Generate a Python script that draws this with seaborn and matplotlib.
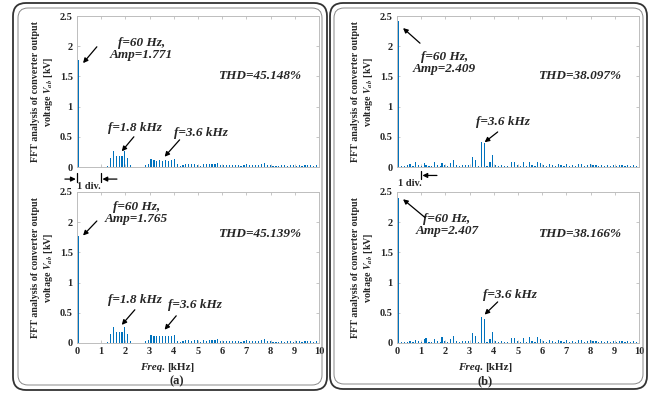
import numpy as np
import matplotlib
matplotlib.use("Agg")
import matplotlib.pyplot as plt
from matplotlib.patches import FancyBboxPatch
import seaborn as sns

# harmonic spectrum, kHz / kV
freq_a = [0.06, 0.18, 0.30, 0.42, 0.54, 0.66, 0.78, 0.90, 1.02, 1.14,
          1.26, 1.38, 1.50, 1.62, 1.74, 1.86, 1.98, 2.10, 2.22, 2.34,
          2.46, 2.58, 2.70, 2.82, 2.94, 3.06, 3.18, 3.30, 3.42, 3.54,
          3.66, 3.78, 3.90, 4.02, 4.14, 4.26, 4.38, 4.50, 4.62, 4.74,
          4.86, 4.98, 5.10, 5.22, 5.34, 5.46, 5.58, 5.70, 5.82, 5.94,
          6.06, 6.18, 6.30, 6.42, 6.54, 6.66, 6.78, 6.90, 7.02, 7.14,
          7.26, 7.38, 7.50, 7.62, 7.74, 7.86, 7.98, 8.10, 8.22, 8.34,
          8.46, 8.58, 8.70, 8.82, 8.94, 9.06, 9.18, 9.30, 9.42, 9.54,
          9.66, 9.78, 9.90]
amp_a_top = [1.771, 0.004, 0.004, 0.005, 0.004, 0.005, 0.004, 0.005, 0.005, 0.006,
             0.02, 0.15, 0.26, 0.19, 0.19, 0.19, 0.26, 0.15, 0.03, 0.005,
             0.004, 0.004, 0.005, 0.03, 0.05, 0.13, 0.12, 0.10, 0.12, 0.10,
             0.12, 0.10, 0.12, 0.14, 0.05, 0.02, 0.04, 0.05, 0.05, 0.05,
             0.05, 0.04, 0.02, 0.05, 0.05, 0.05, 0.05, 0.05, 0.06, 0.04,
             0.03, 0.04, 0.03, 0.03, 0.04, 0.03, 0.02, 0.04, 0.05, 0.03,
             0.04, 0.03, 0.04, 0.05, 0.06, 0.03, 0.04, 0.02, 0.01, 0.02,
             0.03, 0.03, 0.02, 0.03, 0.03, 0.02, 0.03, 0.02, 0.03, 0.03,
             0.04, 0.02, 0.03]
amp_a_bot = [1.765, 0.004, 0.004, 0.004, 0.005, 0.004, 0.005, 0.004, 0.005, 0.006,
             0.02, 0.15, 0.27, 0.19, 0.18, 0.19, 0.27, 0.15, 0.03, 0.005,
             0.004, 0.005, 0.004, 0.03, 0.05, 0.13, 0.12, 0.11, 0.12, 0.11,
             0.12, 0.11, 0.12, 0.13, 0.04, 0.02, 0.03, 0.05, 0.05, 0.04,
             0.05, 0.05, 0.02, 0.05, 0.04, 0.05, 0.05, 0.05, 0.06, 0.04,
             0.03, 0.03, 0.04, 0.03, 0.04, 0.03, 0.02, 0.04, 0.05, 0.03,
             0.04, 0.03, 0.04, 0.05, 0.06, 0.03, 0.04, 0.02, 0.01, 0.02,
             0.03, 0.02, 0.03, 0.03, 0.02, 0.03, 0.03, 0.02, 0.03, 0.03,
             0.04, 0.02, 0.03]

freq_b = [0.06, 0.18, 0.30, 0.42, 0.54, 0.66, 0.78, 0.90, 1.02, 1.14,
          1.20, 1.32, 1.44, 1.56, 1.68, 1.80, 1.86, 1.98, 2.10, 2.22,
          2.34, 2.46, 2.58, 2.70, 2.82, 2.94, 3.12, 3.24, 3.36, 3.48,
          3.60, 3.72, 3.84, 3.96, 4.08, 4.20, 4.32, 4.44, 4.56, 4.74,
          4.86, 4.98, 5.10, 5.22, 5.34, 5.46, 5.58, 5.70, 5.82, 5.94,
          6.06, 6.18, 6.30, 6.42, 6.54, 6.66, 6.78, 6.90, 7.02, 7.14,
          7.26, 7.38, 7.50, 7.62, 7.74, 7.86, 7.98, 8.10, 8.22, 8.34,
          8.46, 8.58, 8.70, 8.82, 8.94, 9.06, 9.18, 9.30, 9.42, 9.54,
          9.66, 9.78, 9.90]
amp_b_top = [2.409, 0.02, 0.02, 0.03, 0.05, 0.02, 0.08, 0.03, 0.02, 0.06,
             0.04, 0.02, 0.02, 0.08, 0.03, 0.02, 0.07, 0.03, 0.02, 0.06,
             0.11, 0.03, 0.02, 0.03, 0.04, 0.03, 0.17, 0.11, 0.02, 0.42,
             0.39, 0.02, 0.08, 0.20, 0.03, 0.02, 0.03, 0.02, 0.02, 0.08,
             0.08, 0.03, 0.02, 0.08, 0.02, 0.08, 0.03, 0.02, 0.09, 0.06,
             0.04, 0.02, 0.05, 0.04, 0.02, 0.05, 0.04, 0.02, 0.05, 0.02,
             0.04, 0.02, 0.05, 0.05, 0.02, 0.04, 0.05, 0.04, 0.03, 0.02,
             0.03, 0.02, 0.04, 0.02, 0.03, 0.02, 0.03, 0.04, 0.02, 0.03,
             0.02, 0.03, 0.02]
amp_b_bot = [2.407, 0.01, 0.02, 0.02, 0.03, 0.02, 0.05, 0.03, 0.02, 0.07,
             0.08, 0.02, 0.02, 0.06, 0.03, 0.02, 0.10, 0.03, 0.02, 0.07,
             0.11, 0.03, 0.02, 0.03, 0.04, 0.03, 0.17, 0.11, 0.02, 0.43,
             0.39, 0.02, 0.07, 0.18, 0.03, 0.02, 0.03, 0.02, 0.02, 0.09,
             0.09, 0.03, 0.02, 0.09, 0.02, 0.10, 0.03, 0.02, 0.10, 0.07,
             0.04, 0.02, 0.05, 0.04, 0.02, 0.05, 0.04, 0.02, 0.05, 0.02,
             0.04, 0.02, 0.05, 0.05, 0.02, 0.04, 0.05, 0.04, 0.03, 0.02,
             0.03, 0.02, 0.04, 0.02, 0.03, 0.02, 0.03, 0.04, 0.02, 0.03,
             0.02, 0.03, 0.02]

xticks = [0, 1, 2, 3, 4, 5, 6, 7, 8, 9, 10]
yticks = [0, 0.5, 1, 1.5, 2, 2.5]
ytick_labels = ["0", "0.5", "1", "1.5", "2", "2.5"]

thd = {"a_top": "THD=45.148%", "a_bot": "THD=45.139%",
       "b_top": "THD=38.097%", "b_bot": "THD=38.166%"}

BLUE = "#0072BD"
GRID = "#bdbdbd"

sns.set_theme(style="ticks")
plt.rcParams["font.family"] = ["Liberation Serif", "DejaVu Serif"]
plt.rcParams["font.weight"] = "bold"
plt.rcParams["mathtext.fontset"] = "stix"

fig = plt.figure(figsize=(6.53, 3.93), dpi=100)

# panel frames (double rounded border), in inches
for x0, y0, w, h, r, lw, c in [(0.13, 0.03, 3.14, 3.87, 0.13, 1.3, "#333333"),
                               (0.18, 0.08, 3.04, 3.77, 0.10, 0.7, "#888888"),
                               (3.30, 0.04, 3.17, 3.86, 0.13, 1.3, "#333333"),
                               (3.34, 0.09, 3.09, 3.76, 0.10, 0.7, "#888888")]:
    fig.add_artist(FancyBboxPatch((x0, y0), w, h,
                                  boxstyle=f"round,pad=0,rounding_size={r}",
                                  transform=fig.dpi_scale_trans, fill=False,
                                  lw=lw, ec=c))

W, H = 242 / 653, 151 / 393
pos = {"a_top": [77 / 653, 1 - 167 / 393, W, H],
       "a_bot": [77 / 653, 1 - 343 / 393, W, H],
       "b_top": [397 / 653, 1 - 167 / 393, W, H],
       "b_bot": [397 / 653, 1 - 343 / 393, W, H]}
data = {"a_top": (freq_a, amp_a_top), "a_bot": (freq_a, amp_a_bot),
        "b_top": (freq_b, amp_b_top), "b_bot": (freq_b, amp_b_bot)}

axes = {}
for key, p in pos.items():
    ax = fig.add_axes(p)
    f, a = data[key]
    sns.histplot(x=f, weights=a, binwidth=0.06, binrange=(-0.03, 10.05),
                 color=BLUE, alpha=1, linewidth=0, shrink=0.8, ax=ax)
    ax.set_xlim(0, 10)
    ax.set_ylim(0, 2.5)
    ax.set_yticks(yticks, labels=ytick_labels, fontweight="bold")
    if key.endswith("bot"):
        ax.set_xticks(xticks, labels=[str(t) for t in xticks], fontweight="bold")
    else:
        ax.set_xticks(xticks, labels=[])
    ax.tick_params(direction="in", top=True, right=True, length=2.5,
                   width=0.6, color=GRID, labelsize=7.5, pad=3)
    for s in ax.spines.values():
        s.set_color(GRID)
        s.set_linewidth(0.7)
    ax.set_xlabel("")
    ax.set_ylabel("FFT analysis of converter output\nvoltage $V_{ab}$ [kV]",
                  fontsize=7.2, fontweight="bold", linespacing=1.2)
    ax.yaxis.set_label_coords(-0.09, 0.5)
    ax.text(7.55, 1.5 if key.endswith("top") else 1.8, thd[key],
            ha="center", va="center", fontsize=9.5, style="italic", weight="bold")
    axes[key] = ax

it = dict(ha="center", va="center", fontsize=9.5, style="italic",
          weight="bold", linespacing=1.05)
arr = dict(arrowstyle="-|>", color="black", lw=0.9, mutation_scale=7,
           shrinkA=0, shrinkB=0)

ax = axes["a_top"]
ax.text(2.65, 1.95, "f=60 Hz,\nAmp=1.771", **it)
ax.annotate("", xy=(0.25, 1.72), xytext=(0.82, 1.99), arrowprops=arr)
ax.text(2.39, 0.65, "f=1.8 kHz", **it)
ax.annotate("", xy=(1.85, 0.26), xytext=(2.35, 0.50), arrowprops=arr)
ax.text(5.14, 0.57, "f=3.6 kHz", **it)
ax.annotate("", xy=(3.62, 0.17), xytext=(4.24, 0.45), arrowprops=arr)
# 1 div. marker
for xv in (0, 1):
    ax.plot([xv, xv], [-0.1, -0.25], color="black", lw=0.9, clip_on=False)
ax.annotate("", xy=(-0.05, -0.2), xytext=(-0.5, -0.2), arrowprops=arr,
            annotation_clip=False)
ax.annotate("", xy=(1.05, -0.2), xytext=(1.65, -0.2), arrowprops=arr,
            annotation_clip=False)
ax.text(0.0, -0.33, "1 div.", ha="left", va="center", fontsize=7.5,
        weight="bold", clip_on=False)

ax = axes["a_bot"]
ax.text(2.45, 2.15, "f=60 Hz,\nAmp=1.765", **it)
ax.annotate("", xy=(0.25, 1.78), xytext=(0.82, 2.02), arrowprops=arr)
ax.text(2.39, 0.72, "f=1.8 kHz", **it)
ax.annotate("", xy=(1.85, 0.30), xytext=(2.39, 0.55), arrowprops=arr)
ax.text(4.86, 0.63, "f=3.6 kHz", **it)
ax.annotate("", xy=(3.62, 0.22), xytext=(4.1, 0.45), arrowprops=arr)

ax = axes["b_top"]
ax.text(1.95, 1.72, "f=60 Hz,\nAmp=2.409", **it)
ax.annotate("", xy=(0.25, 2.30), xytext=(0.95, 2.05), arrowprops=arr)
ax.text(4.36, 0.75, "f=3.6 kHz", **it)
ax.annotate("", xy=(3.62, 0.41), xytext=(4.16, 0.58), arrowprops=arr)
ax.plot([1, 1], [-0.06, -0.2], color="black", lw=0.9, clip_on=False)
ax.annotate("", xy=(1.05, -0.14), xytext=(1.65, -0.14), arrowprops=arr,
            annotation_clip=False)
ax.text(0.04, -0.27, "1 div.", ha="left", va="center", fontsize=7.5,
        weight="bold", clip_on=False)

ax = axes["b_bot"]
ax.text(2.06, 1.95, "f=60 Hz,\nAmp=2.407", **it)
ax.annotate("", xy=(0.25, 2.38), xytext=(1.15, 2.08), arrowprops=arr)
ax.text(4.65, 0.80, "f=3.6 kHz", **it)
ax.annotate("", xy=(3.62, 0.47), xytext=(4.16, 0.68), arrowprops=arr)

# x labels and panel tags
for xs, tag, xt in [(165, "(a)", 177), (483, "(b)", 485)]:
    fig.text(xs / 653, 1 - 367 / 393, "Freq.", ha="right", va="center",
             fontsize=8, style="italic", weight="bold")
    fig.text((xs + 2) / 653, 1 - 367 / 393, "[kHz]", ha="left", va="center",
             fontsize=8, weight="bold")
    fig.text(xt / 653, 1 - 381 / 393, tag, ha="center", va="center",
             fontsize=9, weight="bold")

fig.savefig("out.png", dpi=100)
